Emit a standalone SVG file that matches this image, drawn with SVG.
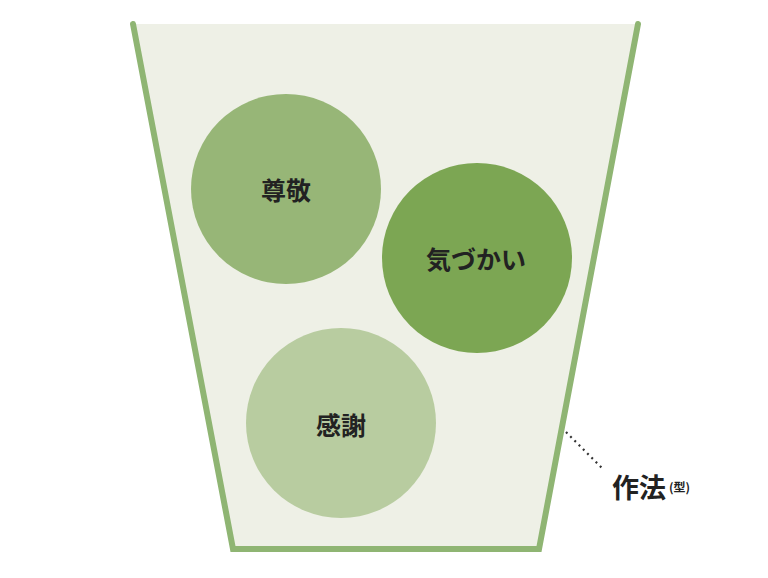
<svg xmlns="http://www.w3.org/2000/svg" width="768" height="578" viewBox="0 0 768 578">
<style>
.lbl{font-family:"Noto Sans CJK JP","Noto Sans CJK SC",sans-serif;font-weight:bold;fill:#222;text-anchor:middle;dominant-baseline:central}
.side{font-family:"Noto Sans CJK JP","Noto Sans CJK SC",sans-serif;font-weight:bold;fill:#222;dominant-baseline:central}
</style>
<rect width="768" height="578" fill="#ffffff"/>
<g id="cup">
<polygon points="133,24 638,24 539,549 233,549" fill="#eef0e6"/>
<polyline points="133,24 233,549 539,549 638,24" fill="none" stroke="#8fb573" stroke-width="6" stroke-linecap="round" stroke-linejoin="miter"/>
</g>
<g id="node-sonkei">
<circle cx="286" cy="189" r="95" fill="#97b677"/>
<text class="lbl" x="286" y="189" font-size="25">尊敬</text>
</g>
<g id="node-kizukai">
<circle cx="477" cy="258" r="95" fill="#7ca653"/>
<text class="lbl" x="476" y="258" font-size="25">気づかい</text>
</g>
<g id="node-kansha">
<circle cx="341" cy="423" r="95" fill="#b8cca0"/>
<text class="lbl" x="341" y="424" font-size="25">感謝</text>
</g>
<g id="connectors">
<line x1="566" y1="432" x2="604" y2="470" stroke="#333" stroke-width="2.2" stroke-dasharray="2,4"/>
</g>
<g id="node-saho">
<text class="side" x="612" y="486" font-size="27">作法</text>
<text class="side" x="669" y="486" font-size="12">(型)</text>
</g>
</svg>
